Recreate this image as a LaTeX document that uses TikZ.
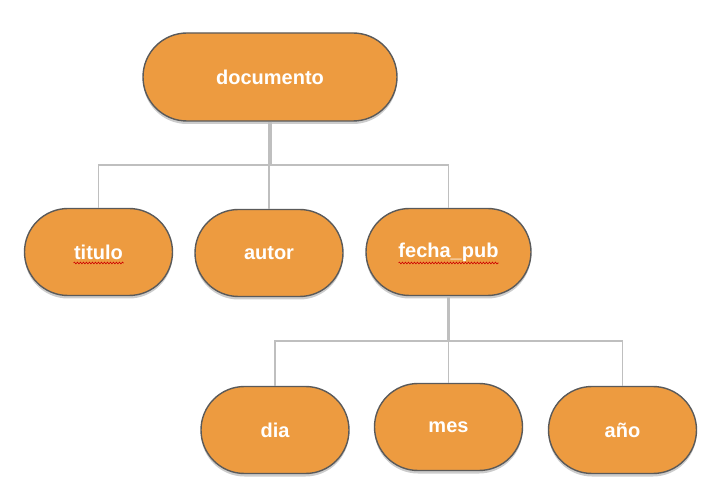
\documentclass[tikz,border=0pt]{standalone}
\usepackage{fontspec}
\setmainfont{Liberation Sans}
\usetikzlibrary{shapes.misc,shadows,decorations.pathmorphing,calc}
\definecolor{boxfill}{HTML}{ED9B40}
\definecolor{boxline}{HTML}{5A5A5A}
\definecolor{conn}{HTML}{BFBFBF}
\begin{document}
\begin{tikzpicture}[x=1pt,y=-1pt,
  pill/.style={rounded rectangle, draw=boxline, line width=1.4pt, fill=boxfill,
    minimum width=148pt, minimum height=87pt, inner sep=0pt,
    text=white, font=\fontsize{20}{23}\selectfont\bfseries,
    drop shadow={shadow xshift=0pt, shadow yshift=-3pt, opacity=0.2, fill=black}},
  link/.style={draw=conn, line width=1.6pt},
  stub/.style={draw=conn, line width=3.5pt},
  squiggle/.style={draw=red!80!black, line width=0.6pt, decorate,
    decoration={snake, amplitude=0.9pt, segment length=3pt}}]
\useasboundingbox (0,0) rectangle (710,494);
% nodes
\node[pill, minimum width=254pt, minimum height=88pt] (doc) at (270,77) {documento};
\node[pill] (tit) at (98.5,252) {titulo};
\node[pill] (aut) at (269,253) {autor};
\node[pill, minimum width=165pt] (fec) at (448.5,252) {fecha\_pub};
\node[pill] (dia) at (275,430) {dia};
\node[pill] (mes) at (448.5,427) {mes};
\node[pill] (ano) at (622.5,430) {año};
% bus coordinates
\coordinate (bar1) at (270,165);
\coordinate (bar2) at (448.5,341);
% connectors, level 1
\draw[stub] (doc.south) -- (bar1);
\draw[link] (tit.north) |- (bar1) -| (fec.north);
\draw[link] (bar1 -| aut.north) -- (aut.north);
% connectors, level 2
\draw[stub] (fec.south) -- (bar2);
\draw[link] (dia.north) |- (bar2) -| (ano.north);
\draw[link] (bar2) -- (mes.north);
% spell-check underlines
\draw[squiggle] ($(tit.center)+(-25,11)$) -- ($(tit.center)+(25,11)$);
\draw[squiggle] ($(fec.center)+(-50,11)$) -- ($(fec.center)+(50,11)$);
\end{tikzpicture}
\end{document}
